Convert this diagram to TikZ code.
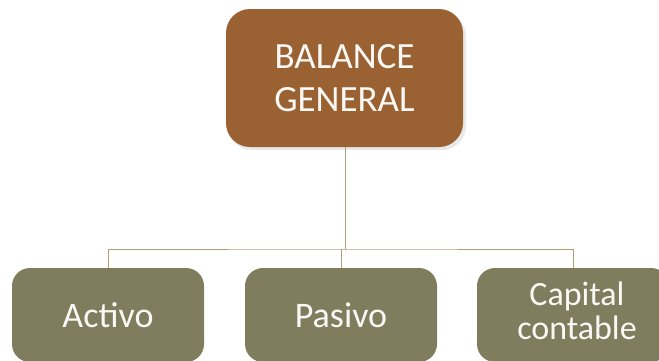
\documentclass[tikz,border=0pt]{standalone}
\usepackage{fontspec}
\setmainfont{Carlito}
\definecolor{topbrown}{RGB}{154,98,50}
\definecolor{olive}{RGB}{128,124,94}
\definecolor{linetan}{RGB}{176,156,118}
\definecolor{txt}{RGB}{250,248,244}
\begin{document}
\begin{tikzpicture}[x=1pt,y=-1pt,
  topbox/.style={fill=topbrown, rounded corners=24pt, minimum width=237pt, minimum height=138pt, text=txt, align=center, inner sep=0pt, font=\fontsize{37}{43}\selectfont},
  subbox/.style={fill=olive, rounded corners=18pt, minimum width=192pt, minimum height=94pt, text=txt, align=center, inner sep=0pt, font=\fontsize{36}{34}\selectfont},
  conn/.style={draw=linetan, line width=1pt}]
\useasboundingbox (0,0) rectangle (659,360);
\fill[black!25, opacity=0.35, rounded corners=24pt] (228,12) rectangle (466,150);
\node[topbox] (top) at (344.5,78) {BALANCE\\GENERAL};
\node[subbox] (a) at (108,315) {Activo};
\node[subbox] (p) at (341,315) {Pasivo};
\node[subbox] (c) at (573,315) {};
\node[text=txt, align=center, inner sep=0pt, font=\fontsize{34}{34}\selectfont] (ct) at (577,311) {Capital\\contable};
\coordinate (bus) at (345,249);
\draw[conn] (top.south -| bus) -- (bus);
\draw[conn] (a.north) |- (bus) -| (c.north);
\draw[conn] (p.north) -- (p.north |- bus);
\end{tikzpicture}
\end{document}
